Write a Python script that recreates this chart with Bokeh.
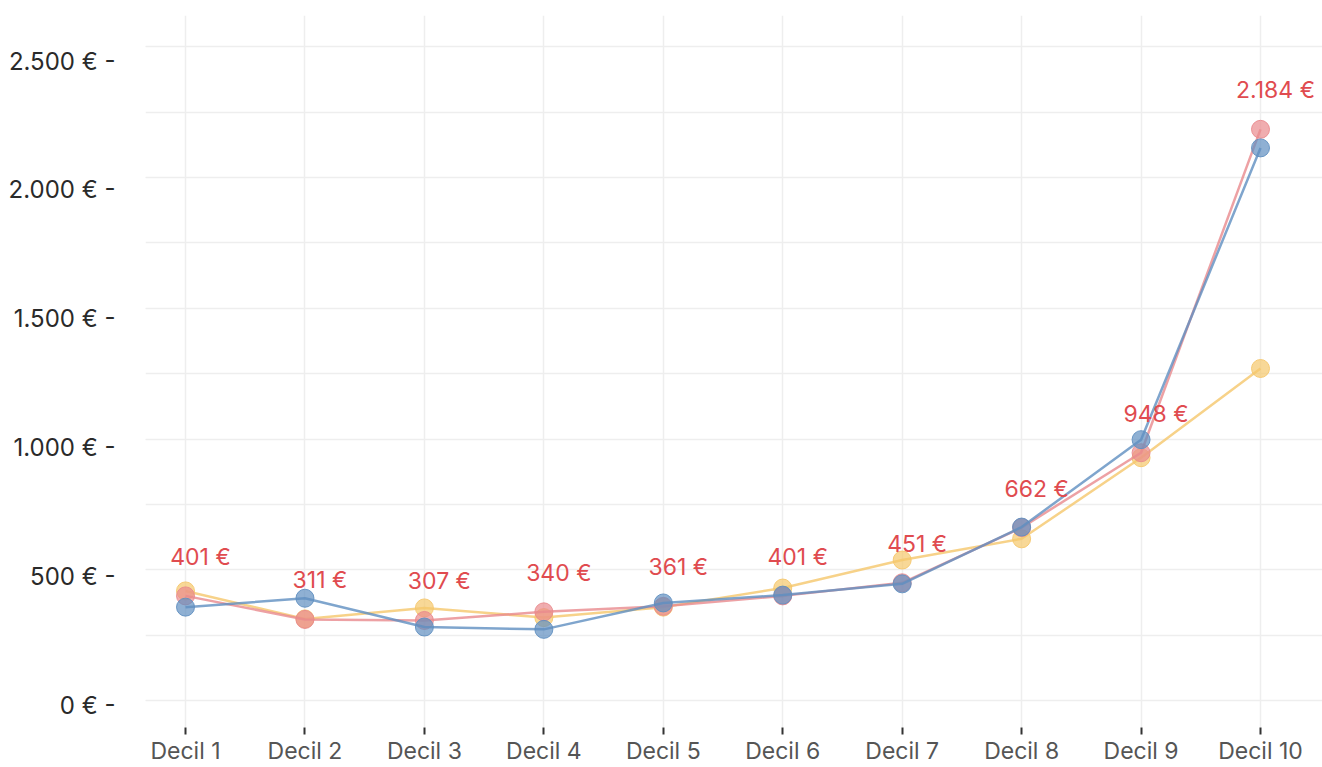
from bokeh.plotting import figure
from bokeh.models import Range1d, LinearAxis, FixedTicker, ColumnDataSource, Grid
from bokeh.embed import file_html
from bokeh.resources import INLINE
from bokeh.core.properties import value

# ---- data -------------------------------------------------------------
deciles = ["Decil 1", "Decil 2", "Decil 3", "Decil 4", "Decil 5",
           "Decil 6", "Decil 7", "Decil 8", "Decil 9", "Decil 10"]
x_pos = [1, 2, 3, 4, 5, 6, 7, 8, 9, 10]
serie_vermella = [401, 311, 307, 340, 361, 401, 451, 662, 948, 2184]
serie_blava = [358, 392, 282, 273, 374, 404, 447, 664, 998, 2113]
serie_groga = [420, 313, 355, 318, 358, 431, 538, 619, 929, 1270]
y_ticks = [0, 500, 1000, 1500, 2000, 2500]
grid_ticks = [0, 250, 500, 750, 1000, 1250, 1500, 1750, 2000, 2250, 2500]

FONT = "Inter"


def euro(v):
    return f"{v:,}".replace(",", ".") + " €"


p = figure(width=1322, height=767,
           x_range=Range1d(0.665, 10.519), y_range=Range1d(-102, 2619),
           y_axis_location=None,
           output_backend="svg", toolbar_location=None,
           min_border_left=145, min_border_right=0,
           min_border_top=15, min_border_bottom=28)
p.outline_line_color = None
p.background_fill_color = "white"
p.border_fill_color = "white"

# horizontal grid
hgrid = Grid(dimension=1, ticker=FixedTicker(ticks=grid_ticks),
             grid_line_color="#eeeeee", grid_line_width=1.5)
p.add_layout(hgrid)

# x axis
xa = p.xaxis[0]
xa.ticker = FixedTicker(ticks=x_pos)
xa.major_label_overrides = {x: d for x, d in zip(x_pos, deciles)}
xa.axis_line_color = None
xa.major_tick_line_color = "#333333"
xa.major_tick_line_width = 2
xa.major_tick_in = 0
xa.major_tick_out = 7
xa.minor_tick_line_color = None
xa.major_label_standoff = 2
xa.major_label_text_font = FONT
xa.major_label_text_font_size = "23px"
xa.major_label_text_color = "#555555"
p.xgrid.grid_line_color = "#eeeeee"
p.xgrid.grid_line_width = 1.5

# y axis labels (placed as in the reference)
p.extra_y_ranges = {"etiquetes": Range1d(-85.5, 2676.8)}
ya = LinearAxis(y_range_name="etiquetes", ticker=FixedTicker(ticks=y_ticks))
ya.major_label_overrides = {t: euro(t) + " -" for t in y_ticks}
ya.axis_line_color = None
ya.major_tick_line_color = None
ya.minor_tick_line_color = None
ya.major_tick_in = 0
ya.major_tick_out = 0
ya.major_label_standoff = 30
ya.major_label_text_font = FONT
ya.major_label_text_font_size = "24px"
ya.major_label_text_color = "#2a2a2a"
p.add_layout(ya, "left")

# series
series = [
    (serie_groga, "#f5c76b"),
    (serie_vermella, "#e98a8d"),
    (serie_blava, "#5f8fc0"),
]
for vals, col in series:
    src = ColumnDataSource(dict(x=x_pos, y=vals))
    p.line("x", "y", source=src, line_color=col, line_width=2.5, line_alpha=0.8)
    p.scatter("x", "y", source=src, size=18, fill_color=col, fill_alpha=0.7,
              line_color=col, line_alpha=0.9, line_width=1)

lab_src = ColumnDataSource(dict(x=x_pos, y=serie_vermella,
                                t=[euro(v) for v in serie_vermella]))
p.text("x", "y", text="t", source=lab_src, text_color="#e04b4f",
       text_font=value(FONT), text_font_size="23px",
       text_align="center", text_baseline="middle",
       x_offset=15, y_offset=-39)

open("out.html", "w").write(file_html(p, INLINE))
